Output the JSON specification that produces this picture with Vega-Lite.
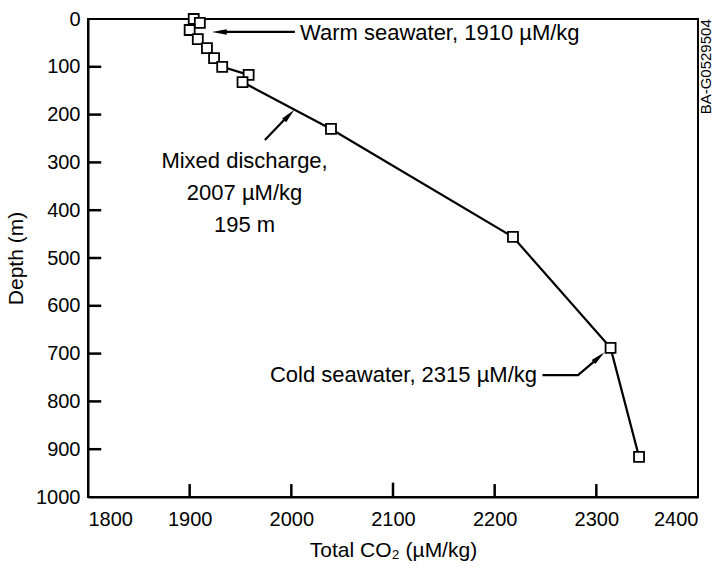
{
  "$schema": "https://vega.github.io/schema/vega-lite/v6.json",
  "width": 610,
  "height": 478,
  "autosize": {"type": "none"},
  "padding": {"left": 88, "top": 19, "right": 20, "bottom": 72},
  "background": "white",
  "config": {
    "font": "Liberation Sans",
    "view": {"stroke": "black", "strokeWidth": 2},
    "axis": {
      "domainColor": "black", "domainWidth": 2,
      "ticks": false,
      "labelColor": "black", "labelFont": "Liberation Sans", "labelFontSize": 20,
      "titleColor": "black", "titleFont": "Liberation Sans", "titleFontSize": 21, "titleFontWeight": "normal",
      "grid": false
    }
  },
  "datasets": {
    "profile": [
      {"co2": 1904, "depth": 0},
      {"co2": 1910, "depth": 8},
      {"co2": 1900, "depth": 23},
      {"co2": 1908, "depth": 42},
      {"co2": 1917, "depth": 61},
      {"co2": 1924, "depth": 82},
      {"co2": 1932, "depth": 100},
      {"co2": 1958, "depth": 117},
      {"co2": 1952, "depth": 132},
      {"co2": 2039, "depth": 230},
      {"co2": 2218, "depth": 456},
      {"co2": 2314, "depth": 688},
      {"co2": 2342, "depth": 916}
    ],
    "arrows": [
      {"arrow": "warm", "co2": 2003.5, "depth": 27, "o": 1},
      {"arrow": "warm", "co2": 1930, "depth": 27, "o": 2},
      {"arrow": "mixed", "co2": 1974, "depth": 253, "o": 1},
      {"arrow": "mixed", "co2": 1998, "depth": 200, "o": 2},
      {"arrow": "cold", "co2": 2247, "depth": 745, "o": 1},
      {"arrow": "cold", "co2": 2282, "depth": 745, "o": 2},
      {"arrow": "cold", "co2": 2302, "depth": 709, "o": 3}
    ],
    "axisticks": [
      {"tick": "y100", "co2": 1800, "depth": 100}, {"tick": "y100", "co2": 1813, "depth": 100},
      {"tick": "y200", "co2": 1800, "depth": 200}, {"tick": "y200", "co2": 1813, "depth": 200},
      {"tick": "y300", "co2": 1800, "depth": 300}, {"tick": "y300", "co2": 1813, "depth": 300},
      {"tick": "y400", "co2": 1800, "depth": 400}, {"tick": "y400", "co2": 1813, "depth": 400},
      {"tick": "y500", "co2": 1800, "depth": 500}, {"tick": "y500", "co2": 1813, "depth": 500},
      {"tick": "y600", "co2": 1800, "depth": 600}, {"tick": "y600", "co2": 1813, "depth": 600},
      {"tick": "y700", "co2": 1800, "depth": 700}, {"tick": "y700", "co2": 1813, "depth": 700},
      {"tick": "y800", "co2": 1800, "depth": 800}, {"tick": "y800", "co2": 1813, "depth": 800},
      {"tick": "y900", "co2": 1800, "depth": 900}, {"tick": "y900", "co2": 1813, "depth": 900},
      {"tick": "x1900", "co2": 1900, "depth": 1000}, {"tick": "x1900", "co2": 1900, "depth": 973},
      {"tick": "x2000", "co2": 2000, "depth": 1000}, {"tick": "x2000", "co2": 2000, "depth": 973},
      {"tick": "x2100", "co2": 2100, "depth": 1000}, {"tick": "x2100", "co2": 2100, "depth": 970},
      {"tick": "x2200", "co2": 2200, "depth": 1000}, {"tick": "x2200", "co2": 2200, "depth": 973},
      {"tick": "x2300", "co2": 2300, "depth": 1000}, {"tick": "x2300", "co2": 2300, "depth": 973}
    ]
  },
  "layer": [
    {
      "data": {"name": "arrows"},
      "mark": {"type": "line", "color": "black", "strokeWidth": 2.2},
      "encoding": {
        "x": {"field": "co2", "type": "quantitative", "scale": {"domain": [1800, 2400], "nice": false, "zero": false},
              "axis": {"values": [1800, 1900, 2000, 2100, 2200, 2300, 2400], "labelPadding": 12, "title": "Total CO₂ (µM/kg)", "titlePadding": 10, "format": "d"}},
        "y": {"field": "depth", "type": "quantitative", "scale": {"domain": [0, 1000], "reverse": true, "nice": false},
              "axis": {"values": [0, 100, 200, 300, 400, 500, 600, 700, 800, 900, 1000], "labelPadding": 8, "title": "Depth (m)", "titlePadding": 9, "format": "d"}},
        "detail": {"field": "arrow"},
        "order": {"field": "o"}
      }
    },
    {
      "data": {"name": "axisticks"},
      "mark": {"type": "rule", "color": "black", "strokeWidth": 2.5},
      "encoding": {
        "x": {"aggregate": "min", "field": "co2", "type": "quantitative"},
        "x2": {"aggregate": "max", "field": "co2"},
        "y": {"aggregate": "min", "field": "depth", "type": "quantitative"},
        "y2": {"aggregate": "max", "field": "depth"},
        "detail": {"field": "tick"}
      }
    },
    {
      "data": {"values": [{"co2": 1922, "depth": 27}]},
      "mark": {"type": "point", "shape": "M0,0L0.3,1.6L-0.3,1.6Z", "filled": true, "color": "black", "opacity": 1, "size": 340, "angle": 270},
      "encoding": {"x": {"field": "co2", "type": "quantitative"}, "y": {"field": "depth", "type": "quantitative"}}
    },
    {
      "data": {"values": [{"co2": 2003, "depth": 190}]},
      "mark": {"type": "point", "shape": "M0,0L0.3,1.6L-0.3,1.6Z", "filled": true, "color": "black", "opacity": 1, "size": 340, "angle": 44},
      "encoding": {"x": {"field": "co2", "type": "quantitative"}, "y": {"field": "depth", "type": "quantitative"}}
    },
    {
      "data": {"values": [{"co2": 2308, "depth": 697}]},
      "mark": {"type": "point", "shape": "M0,0L0.3,1.6L-0.3,1.6Z", "filled": true, "color": "black", "opacity": 1, "size": 340, "angle": 48},
      "encoding": {"x": {"field": "co2", "type": "quantitative"}, "y": {"field": "depth", "type": "quantitative"}}
    },
    {
      "data": {"name": "profile"},
      "mark": {"type": "line", "color": "black", "strokeWidth": 2.2},
      "encoding": {
        "x": {"field": "co2", "type": "quantitative"},
        "y": {"field": "depth", "type": "quantitative"},
        "order": {"field": "depth"}
      }
    },
    {
      "data": {"name": "profile"},
      "mark": {"type": "point", "shape": "square", "filled": true, "fill": "white", "stroke": "black", "strokeWidth": 1.8, "opacity": 1, "size": 100},
      "encoding": {
        "x": {"field": "co2", "type": "quantitative"},
        "y": {"field": "depth", "type": "quantitative"}
      }
    },
    {
      "data": {"values": [
        {"co2": 2008.5, "depth": 29, "label": "Warm seawater, 1910 µM/kg"},
        {"co2": 1979, "depth": 745, "label": "Cold seawater, 2315 µM/kg"}
      ]},
      "mark": {"type": "text", "align": "left", "baseline": "middle", "fontSize": 22, "font": "Liberation Sans", "color": "black"},
      "encoding": {
        "x": {"field": "co2", "type": "quantitative"},
        "y": {"field": "depth", "type": "quantitative"},
        "text": {"field": "label"}
      }
    },
    {
      "data": {"values": [
        {"co2": 1954, "depth": 297, "label": "Mixed discharge,"},
        {"co2": 1954, "depth": 364, "label": "2007 µM/kg"},
        {"co2": 1954, "depth": 431, "label": "195 m"}
      ]},
      "mark": {"type": "text", "align": "center", "baseline": "middle", "fontSize": 22, "font": "Liberation Sans", "color": "black"},
      "encoding": {
        "x": {"field": "co2", "type": "quantitative"},
        "y": {"field": "depth", "type": "quantitative"},
        "text": {"field": "label"}
      }
    },
    {
      "data": {"values": [{"co2": 2408, "depth": 100, "label": "BA-G0529504"}]},
      "mark": {"type": "text", "align": "center", "baseline": "middle", "angle": 270, "fontSize": 15, "font": "Liberation Sans", "color": "black", "clip": false},
      "encoding": {
        "x": {"field": "co2", "type": "quantitative"},
        "y": {"field": "depth", "type": "quantitative"},
        "text": {"field": "label"}
      }
    }
  ]
}
